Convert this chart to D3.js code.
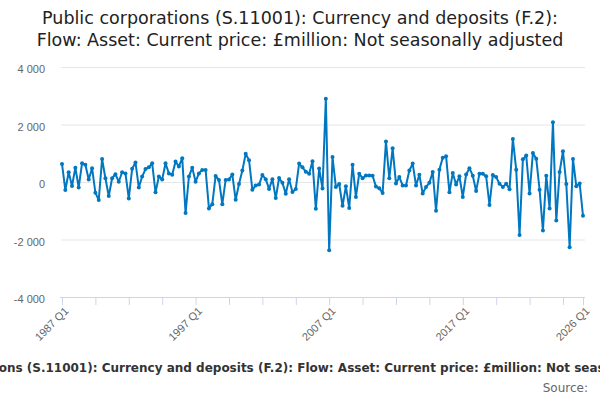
<!DOCTYPE html>
<html lang="en">
<head>
  <meta charset="UTF-8">
  <title>Public corporations: Currency and deposits</title>
  <script src="https://d3js.org/d3.v7.min.js"></script>
  <style>
    body { margin: 0; background: #fff; font-family: "DejaVu Sans", sans-serif; overflow: hidden; }
    .title { font-size: 17.5px; fill: #222; text-anchor: middle; }
    .y-label { font-size: 11px; fill: #666; }
    .x-label { font-size: 11px; fill: #666; }
    .caption { font-size: 12px; font-weight: bold; fill: #333; }
    .source { font-size: 12px; fill: #666; }
  </style>
</head>
<body>
  <svg width="600" height="400"></svg>
  <script>
    // Quarterly flows, £million, 1987 Q1 .. 2026 Q1
    const startYear = 1987;
    const values = [
      630, -280, 340, -140, 500, -190, 650, 600, 90, 480, -370, -630, 800, 130, -490, 130, 270, 10, 340, 300, -570, 460, 680, -190, 190,
      450, 510, 650, -360, 190, 90, 650, 300, 250, 710, 540, 830, -1080, 190, 500, 10, 300, 420, 420, -920, -770, 210, 70, -770, 70, 90,
      260, -620, -70, 400, 980, 760, -270, -120, -90, 240, 100, -240, 100, -560, 140, -30, -410, 100, -350, -240, 640, 510, 360, 290, 720, -930, 470, -230,
      2900, -2370, 870, -170, -70, -830, -150, -900, 600, -520, 290, 130, 230, 230, 220, -160, -220, -380, 1410, 130, 1170, -50, 170, -120, -120, 400,
      640, -120, 250, -400, -170, -30, 350, -1000, 430, 840, 900, -360, 310, -90, 200, -520, 260, 480, 220, -310, 290, 290, 200, -800, 240, 170, -60, -170, -60, -250, 1500,
      430, -1840, 790, 920, -400, 1010, 810, -270, -1690, 220, -920, 2080, -1340, 350, 1070, -70, -2270, 800, -150, -50, -1170
    ];
    const quarters = values.map((v, i) => `${startYear + Math.floor(i / 4)} Q${i % 4 + 1}`);
    const yTicks = [-4000, -2000, 0, 2000, 4000];
    const xTickLabels = ["1987 Q1", "1997 Q1", "2007 Q1", "2017 Q1", "2026 Q1"];
    const titleLines = [
      "Public corporations (S.11001): Currency and deposits (F.2):",
      "Flow: Asset: Current price: £million: Not seasonally adjusted"
    ];
    const caption = "Public corporations (S.11001): Currency and deposits (F.2): Flow: Asset: Current price: £million: Not seasonally adjusted";

    const svg = d3.select("svg");
    const plotLeft = 62, plotRight = 583, plotTop = 67, plotBottom = 297;

    const x = d3.scaleLinear().domain([0, values.length - 1]).range([plotLeft, plotRight]);
    const y = d3.scaleLinear().domain([-4000, 4000]).range([plotBottom, plotTop]);

    // Title
    svg.append("g").selectAll("text")
      .data(titleLines)
      .enter().append("text")
      .attr("class", "title")
      .attr("x", 300)
      .attr("y", (d, i) => 24 + i * 22)
      .text(d => d);

    // Gridlines and y labels
    const fmt = v => d3.format(",")(v).replace(/,/g, " ").replace("−", "-");
    svg.append("g")
      .attr("transform", `translate(${plotLeft - 1},0)`)
      .call(d3.axisLeft(y).tickValues(yTicks).tickSize(-(plotRight - plotLeft + 3)).tickFormat(fmt))
      .call(g => g.select(".domain").remove())
      .call(g => g.selectAll(".tick line").attr("stroke", "#e6e6e6"))
      .call(g => g.selectAll(".tick text")
        .attr("class", "y-label")
        .attr("x", -16)
        .attr("dy", "0.5em"));

    // X axis: a tick every 10 quarters plus the last, labels every 40
    const tickIdx = d3.range(0, values.length, 10).concat([values.length - 1]);
    const xAxis = svg.append("g")
      .attr("transform", `translate(0,${plotBottom})`)
      .call(d3.axisBottom(x)
        .tickValues(tickIdx)
        .tickSize(8)
        .tickFormat(i => xTickLabels.includes(quarters[i]) ? quarters[i] : ""));
    xAxis.select(".domain").attr("stroke", "#ccd6eb").attr("d", `M${plotLeft - 2},0.5H${plotRight + 2}`);
    xAxis.selectAll(".tick line").attr("stroke", "#ccd6eb");
    xAxis.selectAll(".tick text")
      .attr("class", "x-label")
      .attr("text-anchor", "end")
      .attr("transform", "translate(4,12) rotate(-45)")
      .attr("dy", "0.35em")
      .attr("y", 0);

    // Line and markers
    const line = d3.line().x((d, i) => x(i)).y(d => y(d));
    svg.append("path")
      .datum(values)
      .attr("fill", "none")
      .attr("stroke", "#0077c0")
      .attr("stroke-width", 2)
      .attr("stroke-linejoin", "round")
      .attr("d", line);

    svg.append("g").selectAll("circle")
      .data(values)
      .enter().append("circle")
      .attr("cx", (d, i) => x(i))
      .attr("cy", d => y(d))
      .attr("r", 2)
      .attr("fill", "#0077c0");

    // Caption and source
    svg.append("text")
      .attr("class", "caption")
      .attr("x", 300)
      .attr("y", 372)
      .attr("text-anchor", "middle")
      .text(caption);

    svg.append("text")
      .attr("class", "source")
      .attr("x", 588)
      .attr("y", 392)
      .attr("text-anchor", "end")
      .text("Source:");
  </script>
</body>
</html>
